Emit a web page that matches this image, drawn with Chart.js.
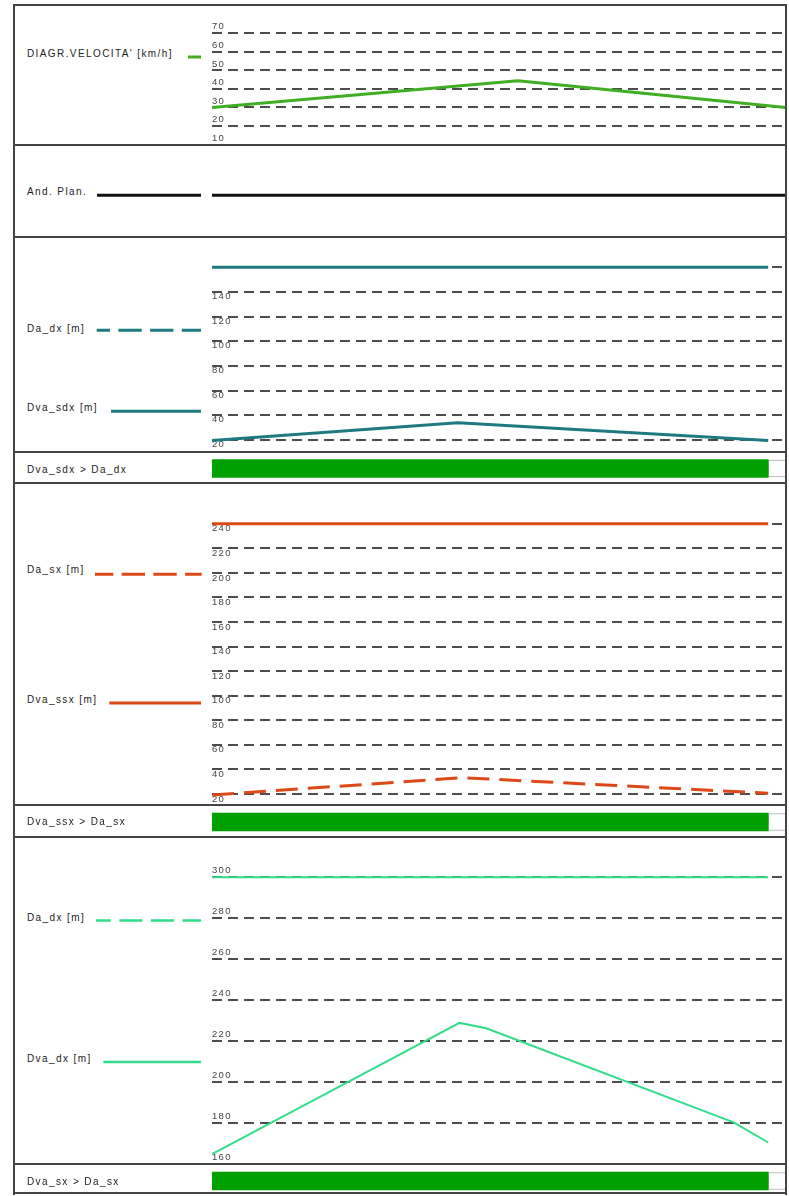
<!DOCTYPE html>
<html>
<head>
<meta charset="utf-8">
<script src="https://cdn.jsdelivr.net/npm/chart.js@4.4.1/dist/chart.umd.min.js"></script>
<style>
  html, body { margin: 0; padding: 0; background: #fff; }
  #sheet { position: relative; width: 789px; height: 1196px; overflow: hidden; background: #fff;
           font-family: "Liberation Sans", Arial, sans-serif; }
  #sheet canvas { position: absolute; }
  .lbl { position: absolute; left: 27px; font-size: 10px; line-height: 12px; letter-spacing: 1.4px;
         color: #222; white-space: nowrap; }
  .rule { position: absolute; background: #444; }
  #keys { position: absolute; left: 0; top: 0; }
</style>
</head>
<body>
<div id="sheet"></div>
<script>
// ---- progressive distance shared by every band (m) ----
const xMax = 1032;

// speed diagram
const velChainage = [0, 550, 1032];
const velValues   = [30, 44.4, 30];
const velTicks    = [10, 20, 30, 40, 50, 60, 70];

// horizontal alignment (straight)
const planChainage = [0, 1032];
const planValues   = [0, 0];

// right side: available vs required sight distance
const daDxChainage   = [0, 1000];
const daDxValues     = [160, 160];
const dvaSdxChainage = [0, 442, 1000];
const dvaSdxValues   = [19.5, 34, 19.5];
const dxTicks        = [20, 40, 60, 80, 100, 120, 140, 160];
const dxLabels       = [20, 40, 60, 80, 100, 120, 140];

// left side
const daSxChainage   = [0, 1000];
const daSxValues     = [240, 240];
const dvaSsxChainage = [0, 450, 1000];
const dvaSsxValues   = [19.2, 33.3, 20.6];
const sxTicks        = [20, 40, 60, 80, 100, 120, 140, 160, 180, 200, 220, 240];

// right side, second check
const daDx2Chainage  = [0, 1000];
const daDx2Values    = [300, 300];
const dvaDxChainage  = [0, 445, 493, 938, 1000];
const dvaDxValues    = [164.8, 228.9, 226.3, 180.3, 170.5];
const dx2Ticks       = [160, 180, 200, 220, 240, 260, 280, 300];

// stretches where the check is satisfied, and the tail with no data
const checkRange  = [0, 1000];
const noDataRange = [1000, 1032];

// ---- colours ----
const C_VEL    = '#3fae22';
const C_TEAL   = '#1e7a80';
const C_ORANGE = '#dc4816';
const C_LIGHT  = '#33dc8a';
const C_FLAG   = '#00a000';
const C_GRID   = '#4d4d4d';

const sheet = document.getElementById('sheet');
const PAD = 8;

const spacedText = {
  id: 'spacedText',
  beforeDraw(chart) { chart.ctx.letterSpacing = '1.3px'; }
};

function pts(xs, ys) { return xs.map((x, i) => ({ x: x, y: ys[i] })); }

function addCanvas(left, top, w, h) {
  const c = document.createElement('canvas');
  c.width = w; c.height = h;
  c.style.left = left + 'px'; c.style.top = top + 'px';
  c.style.width = w + 'px'; c.style.height = h + 'px';
  sheet.appendChild(c);
  return c;
}

function lineBand(o) {
  const h = o.bottom - o.top;
  const cv = addCanvas(212, o.top - PAD, 574, h + 2 * PAD);
  const yScale = {
    type: 'linear', position: 'left', min: o.yMin, max: o.yMax,
    display: !!o.ticks
  };
  if (o.ticks) {
    yScale.afterBuildTicks = ax => { ax.ticks = o.ticks.map(v => ({ value: v })); };
    yScale.grid = { color: C_GRID, lineWidth: 2, drawTicks: false };
    yScale.border = { display: false, dash: [10, 6] };
    yScale.ticks = {
      mirror: true, padding: 0, autoSkip: false, labelOffset: o.labelOffset,
      color: '#444', font: { family: 'Liberation Sans', size: 9.5 },
      callback: v => (o.labels.includes(v) ? String(v) : '')
    };
  }
  return new Chart(cv, {
    type: 'line',
    data: { datasets: o.datasets },
    options: {
      responsive: false, animation: false, devicePixelRatio: 1,
      layout: { padding: { top: PAD, bottom: PAD, left: 0, right: 0 } },
      elements: { point: { radius: 0 }, line: { tension: 0 } },
      plugins: { legend: { display: false }, tooltip: { enabled: false } },
      scales: {
        x: { type: 'linear', min: 0, max: xMax, display: false },
        y: yScale
      }
    },
    plugins: [spacedText]
  });
}

function flagBand(top, h) {
  const cv = addCanvas(212, top, 574, h);
  return new Chart(cv, {
    type: 'bar',
    data: {
      labels: ['check'],
      datasets: [
        { data: [checkRange], backgroundColor: C_FLAG, borderWidth: 0, barThickness: 18, grouped: false },
        { data: [noDataRange], backgroundColor: '#fff', borderColor: '#aaa', borderWidth: 1,
          borderSkipped: false, barThickness: 17, grouped: false }
      ]
    },
    options: {
      indexAxis: 'y', responsive: false, animation: false, devicePixelRatio: 1,
      layout: { padding: 0 },
      plugins: { legend: { display: false }, tooltip: { enabled: false } },
      scales: {
        x: { type: 'linear', min: 0, max: xMax, display: false },
        y: { type: 'category', display: false }
      }
    }
  });
}

// speed diagram
lineBand({
  top: 5, bottom: 145, yMin: 9.75, yMax: 85.3,
  ticks: velTicks, labels: velTicks, labelOffset: -6.5,
  datasets: [{ data: pts(velChainage, velValues), borderColor: C_VEL, borderWidth: 3 }]
});

// horizontal alignment
lineBand({
  top: 145, bottom: 237, yMin: -1, yMax: 1.206,
  datasets: [{ data: pts(planChainage, planValues), borderColor: '#111', borderWidth: 3 }]
});

// right-side sight distance
lineBand({
  top: 237, bottom: 452, yMin: 10.27, yMax: 184.6,
  ticks: dxTicks, labels: dxLabels, labelOffset: 4.5,
  datasets: [
    { data: pts(daDxChainage, daDxValues), borderColor: C_TEAL, borderWidth: 3 },
    { data: pts(dvaSdxChainage, dvaSdxValues), borderColor: C_TEAL, borderWidth: 3 }
  ]
});
flagBand(453, 31);

// left-side sight distance
lineBand({
  top: 483, bottom: 805, yMin: 11.05, yMax: 273.2,
  ticks: sxTicks, labels: sxTicks, labelOffset: 5,
  datasets: [
    { data: pts(daSxChainage, daSxValues), borderColor: C_ORANGE, borderWidth: 3 },
    { data: pts(dvaSsxChainage, dvaSsxValues), borderColor: C_ORANGE, borderWidth: 3, borderDash: [22, 10] }
  ]
});
flagBand(806, 32);

// right-side sight distance, second check
lineBand({
  top: 837, bottom: 1164, yMin: 160, yMax: 319.7,
  ticks: dx2Ticks, labels: dx2Ticks, labelOffset: -6.5,
  datasets: [
    { data: pts(daDx2Chainage, daDx2Values), borderColor: C_LIGHT, borderWidth: 2 },
    { data: pts(dvaDxChainage, dvaDxValues), borderColor: C_LIGHT, borderWidth: 2 }
  ]
});
flagBand(1166, 30);

// ---- row captions ----
const captions = [
  ["DIAGR.VELOCITA' [km/h]", 48],
  ['And. Plan.', 185.5],
  ['Da_dx [m]', 323],
  ['Dva_sdx [m]', 401.5],
  ['Dva_sdx > Da_dx', 463.5],
  ['Da_sx [m]', 564],
  ['Dva_ssx [m]', 694],
  ['Dva_ssx > Da_sx', 816],
  ['Da_dx [m]', 912],
  ['Dva_dx [m]', 1052.5],
  ['Dva_sx > Da_sx', 1176]
];
captions.forEach(([t, y]) => {
  const d = document.createElement('div');
  d.className = 'lbl';
  d.style.top = y + 'px';
  d.textContent = t;
  sheet.appendChild(d);
});

// ---- key samples next to the captions ----
const keys = [
  { x1: 188, x2: 201, y: 57, c: C_VEL, w: 3 },
  { x1: 97, x2: 201, y: 195.3, c: '#111', w: 3 },
  { x1: 96.7, x2: 201, y: 330.3, c: C_TEAL, w: 3, dash: '23.3 8.4', off: 10 },
  { x1: 111, x2: 201, y: 411.3, c: C_TEAL, w: 3 },
  { x1: 95, x2: 201.7, y: 574.3, c: C_ORANGE, w: 3, dash: '23.3 8.4', off: 5 },
  { x1: 109.3, x2: 201, y: 703, c: C_ORANGE, w: 3 },
  { x1: 96, x2: 201, y: 920.5, c: C_LIGHT, w: 2.5, dash: '23 8.6', off: 8.3 },
  { x1: 103.3, x2: 201, y: 1062, c: C_LIGHT, w: 2.5 }
];
const NS = 'http://www.w3.org/2000/svg';
const svg = document.createElementNS(NS, 'svg');
svg.setAttribute('id', 'keys');
svg.setAttribute('width', 789);
svg.setAttribute('height', 1196);
keys.forEach(k => {
  const l = document.createElementNS(NS, 'line');
  l.setAttribute('x1', k.x1); l.setAttribute('x2', k.x2);
  l.setAttribute('y1', k.y); l.setAttribute('y2', k.y);
  l.setAttribute('stroke', k.c); l.setAttribute('stroke-width', k.w);
  if (k.dash) { l.setAttribute('stroke-dasharray', k.dash); l.setAttribute('stroke-dashoffset', k.off); }
  svg.appendChild(l);
});
sheet.appendChild(svg);

// ---- frame and band separators ----
function rule(left, top, w, h) {
  const d = document.createElement('div');
  d.className = 'rule';
  d.style.left = left + 'px'; d.style.top = top + 'px';
  d.style.width = w + 'px'; d.style.height = h + 'px';
  sheet.appendChild(d);
}
rule(13, 4, 2, 1191);
rule(785, 4, 2, 1191);
[4, 144, 236, 451, 482, 804, 836, 1163, 1192].forEach(y => rule(13, y, 774, 2));
</script>
</body>
</html>
